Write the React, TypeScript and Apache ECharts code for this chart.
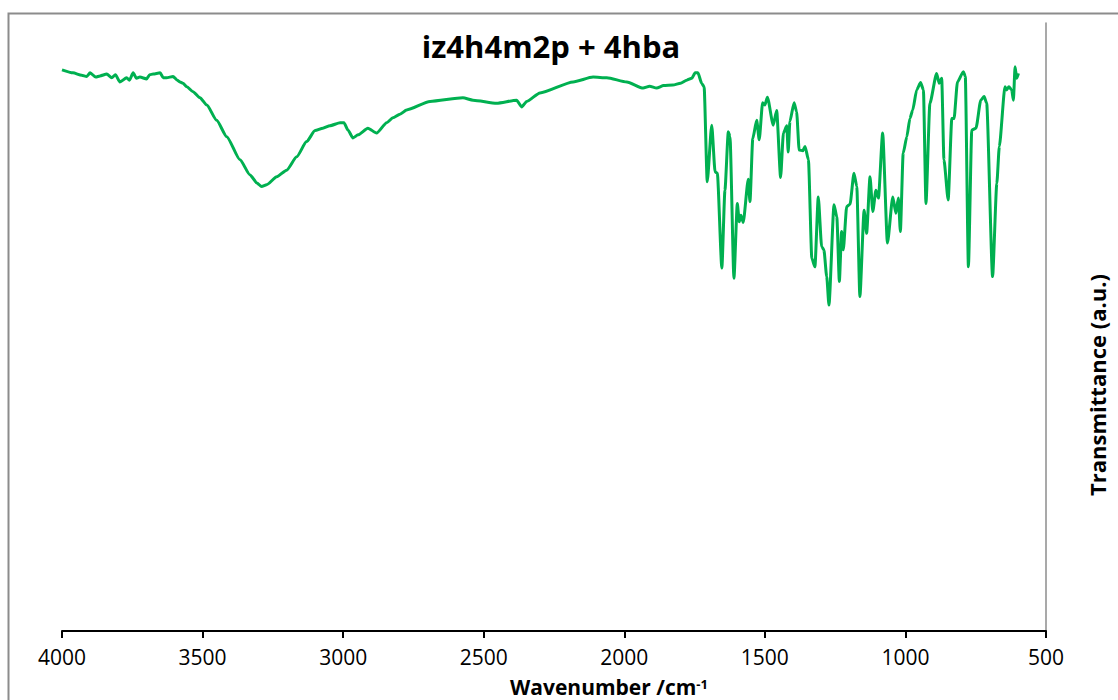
import React, { useEffect, useRef } from "react";
import * as echarts from "echarts";

const chartTitle = "iz4h4m2p + 4hba";
const xTicks = [4000, 3500, 3000, 2500, 2000, 1500, 1000, 500];

const wavenumbers = [
  4000, 3961, 3930, 3912, 3900, 3880, 3865, 3841, 3823, 3810, 3794, 3770, 3760, 3747, 3735, 3723,
  3699, 3688, 3676, 3651, 3640, 3628, 3605, 3590,
  3580, 3570, 3556, 3534, 3509, 3485, 3450, 3414, 3367, 3331, 3307, 3290, 3272, 3236, 3201, 3165,
  3130, 3100, 3072, 3047, 3011, 2997, 2983, 2965, 2947, 2912, 2881, 2845, 2823, 2798, 2774, 2691,
  2574, 2538, 2454, 2383, 2365, 2347, 2300, 2182, 2111, 2062, 1991, 1933, 1910, 1885, 1860, 1827,
  1800, 1778, 1760, 1748,
  1738, 1725, 1716, 1705, 1689, 1677, 1669, 1653, 1642, 1630, 1624, 1610, 1598, 1591, 1585, 1577,
  1559, 1553, 1543, 1529, 1520, 1508, 1500, 1491, 1470, 1458, 1444, 1434, 1422, 1417, 1411, 1396,
  1387, 1378, 1365, 1357, 1345, 1333, 1322, 1310, 1298, 1290, 1280, 1272, 1254, 1244, 1235, 1227,
  1221, 1209, 1197, 1183, 1173, 1162, 1147, 1138, 1126, 1116, 1105, 1096, 1081, 1064, 1045, 1034,
  1025, 1018, 1008, 995, 984, 974, 960, 946, 936, 927, 913, 889, 880, 871, 863, 848,
  835, 827, 815, 794, 787, 776, 764, 749, 732, 720, 711, 690, 675, 666, 646, 640,
  632, 622, 616, 610, 604, 598,
];

const transmittance = [
  92.3, 91.8, 91.4, 91.2, 91.8, 91.1, 91.3, 91.6, 91.0, 91.5, 90.3, 91.0, 90.6, 91.8, 90.9, 91.1,
  90.8, 91.5, 91.6, 91.8, 91.0, 91.0, 91.2, 90.6,
  90.3, 90.1, 89.5, 88.7, 87.7, 86.5, 84.0, 81.3, 77.5, 75.0, 73.7, 73.1, 73.4, 74.7, 75.8, 78.0,
  80.5, 82.3, 82.7, 83.1, 83.6, 83.6, 82.4, 81.1, 81.6, 82.7, 81.9, 83.6, 84.4, 85.0, 85.7, 87.1,
  87.7, 87.3, 86.8, 87.3, 86.2, 87.1, 88.5, 90.3, 91.1, 91.0, 90.3, 89.3, 89.6, 89.3, 89.7, 89.8,
  90.1, 90.6, 90.9, 91.8,
  91.8, 90.1, 89.5, 73.9, 83.2, 75.5, 75.3, 59.7, 72.5, 82.1, 81.3, 58.0, 70.3, 67.3, 68.4, 67.2,
  74.3, 70.6, 81.0, 84.0, 80.8, 86.9, 86.5, 87.8, 83.2, 85.6, 74.6, 81.9, 83.1, 78.8, 83.8, 86.9,
  85.4, 79.1, 79.0, 79.7, 77.5, 61.3, 59.9, 71.4, 63.2, 62.7, 58.3, 53.6, 70.1, 68.1, 57.5, 65.7,
  62.7, 69.8, 70.2, 75.3, 73.1, 55.0, 69.2, 65.4, 74.7, 69.0, 72.5, 71.2, 81.9, 63.8, 71.4, 68.7,
  71.2, 65.7, 78.6, 81.3, 84.3, 85.7, 89.0, 90.2, 89.0, 70.3, 86.8, 91.7, 90.1, 90.9, 77.5, 70.9,
  84.3, 84.3, 90.3, 92.0, 91.2, 59.9, 82.4, 82.7, 87.3, 87.9, 86.8, 58.3, 73.6, 79.7, 89.5, 89.0,
  89.5, 89.0, 87.3, 92.8, 90.9, 91.7,
];

export default function App() {
  const ref = useRef<HTMLDivElement>(null);

  useEffect(() => {
    document.body.style.margin = "0";
    const chart = echarts.init(ref.current as HTMLDivElement, null, { renderer: "svg" });
    const data = wavenumbers.map((w, i) => [w, transmittance[i]]);
    const font = "'Open Sans', 'Noto Sans', sans-serif";
    chart.setOption({
      animation: false,
      textStyle: { fontFamily: font },
      grid: { left: 62, right: 72, top: 23, bottom: 69 },
      xAxis: {
        type: "value",
        min: 500,
        max: 4000,
        interval: 500,
        inverse: true,
        axisLine: { show: true, onZero: false, lineStyle: { color: "#000", width: 2 } },
        axisTick: { show: true, inside: false, length: 7, lineStyle: { color: "#000", width: 2 } },
        axisLabel: {
          color: "#000",
          fontSize: 21,
          margin: 15,
          lineHeight: 22,
          fontFamily: font,
          formatter: (v: number) => (xTicks.includes(v) ? String(v) : ""),
        },
        splitLine: { show: false },
      },
      yAxis: {
        type: "value",
        min: 0,
        max: 100,
        position: "right",
        axisLine: { show: true, onZero: false, lineStyle: { color: "#8c8c8c", width: 1.5 } },
        axisTick: { show: false },
        axisLabel: { show: false },
        splitLine: { show: false },
      },
      series: [
        {
          type: "line",
          data,
          showSymbol: false,
          symbol: "none",
          smooth: 0.2,
          smoothMonotone: "x",
          lineStyle: { color: "#00B050", width: 3 },
          itemStyle: { color: "#00B050" },
        },
      ],
      graphic: [
        {
          type: "rect",
          shape: { x: 8.5, y: 13.5, width: 1300, height: 900 },
          style: { fill: "none", stroke: "#8c8c8c", lineWidth: 2 },
          silent: true,
          z: -1,
        },
        {
          type: "text",
          x: 551,
          y: 46,
          style: {
            text: chartTitle,
            fontFamily: font,
            fontSize: 31,
            fontWeight: "bold",
            fill: "#000",
            align: "center",
            verticalAlign: "middle",
          },
        },
        {
          type: "text",
          x: 609,
          y: 687,
          style: {
            text: "{a|Wavenumber /cm}{s|-1}",
            fill: "#000",
            align: "center",
            verticalAlign: "middle",
            rich: {
              a: { fontFamily: font, fontSize: 21, fontWeight: "bold", fill: "#000", lineHeight: 20, verticalAlign: "bottom" },
              s: { fontFamily: font, fontSize: 13, fontWeight: "bold", fill: "#000", lineHeight: 20, verticalAlign: "top" },
            },
          },
        },
        {
          type: "text",
          x: 1097,
          y: 385,
          rotation: Math.PI / 2,
          style: {
            text: "Transmittance (a.u.)",
            fontFamily: font,
            fontSize: 22,
            fontWeight: "bold",
            fill: "#000",
            align: "center",
            verticalAlign: "middle",
          },
        },
      ],
    });
    return () => chart.dispose();
  }, []);

  return <div ref={ref} style={{ width: 1118, height: 700 }} />;
}
